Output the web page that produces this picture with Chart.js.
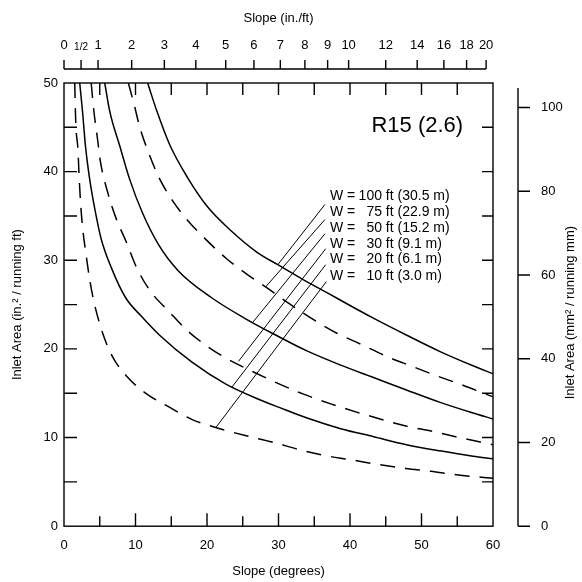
<!DOCTYPE html>
<html>
<head>
<meta charset="utf-8">
<script src="https://cdn.jsdelivr.net/npm/chart.js@4.4.1/dist/chart.umd.min.js"></script>
<style>
  html, body { margin: 0; padding: 0; background: #fff; }
  #wrap { width: 582px; height: 582px; }
</style>
</head>
<body>
<div id="wrap"><canvas id="chart" width="582" height="582"></canvas></div>
<script>
// tick values / labels
const degTicks = [0, 10, 20, 30, 40, 50, 60];
const areaTicks = [0, 10, 20, 30, 40, 50];
const mmTicks = [0, 20, 40, 60, 80, 100];
const inFtTicks = [0, 0.5, 1, 2, 3, 4, 5, 6, 7, 8, 9, 10, 12, 14, 16, 18, 20];
const inFtLabels = ['0', '1/2', '1', '2', '3', '4', '5', '6', '7', '8', '9', '10', '12', '14', '16', '18', '20'];
const innerDeg = [5, 10, 15, 20, 25, 30, 35, 40, 45, 50, 55];
const innerArea = [5, 10, 15, 20, 25, 30, 35, 40, 45];

// curves: [slope (degrees), inlet area (in.2 / running ft)]
const w100 = [[11.7, 50], [13, 46.8], [14.8, 43], [17.3, 39.3], [20.1, 36], [23.4, 33.3], [27, 30.9], [29.9, 29.5],
  [33.5, 27.8], [36.9, 26.3], [40, 24.9], [43.2, 23.5], [47.8, 21.6], [52.6, 19.7], [57.2, 18.1], [60, 17.2]];
const w75 = [[9.0, 50], [9.8, 47.6], [10.6, 45], [11.9, 42], [13.3, 39.3], [15.2, 36.7], [17.3, 34.5], [19.9, 32.3],
  [22.7, 30.2], [25.8, 28.3], [28.2, 27], [31.5, 25.1], [34.5, 23.5], [38.1, 21.8], [41.6, 20.5], [45, 19.2],
  [48.8, 18], [52, 17], [55.8, 15.9], [59, 14.9], [60, 14.6]];
const w50 = [[5.7, 50], [6.4, 46.8], [7.8, 42.9], [9.2, 39.1], [11, 35.3], [13.2, 31.8], [16, 28.8], [20.6, 25.8],
  [25.4, 23.4], [30, 21.4], [33.9, 19.8], [38.6, 18.2], [43.2, 16.8], [47.8, 15.4], [52.5, 14], [57.1, 12.8], [60, 12.1]];
const w30 = [[3.8, 50], [4.2, 46.7], [4.7, 43.6], [5.1, 41.1], [6.1, 37.7], [7.3, 34.7], [8.7, 32.1], [10.2, 29.1],
  [12.1, 26.5], [14.7, 24.2], [17.2, 22.1], [20.2, 20.2], [23, 18.8], [26.5, 17.4], [29.4, 16.3], [33.5, 14.9],
  [37.3, 13.8], [40.8, 12.9], [44.2, 12.1], [47.8, 11.3], [51.6, 10.7], [55.3, 10], [58.8, 9.4], [60, 9.2]];
const w20 = [[2.2, 50], [2.6, 46.7], [3.0, 42.9], [3.6, 39.1], [4.4, 35.4], [5.2, 32.4], [6.7, 29], [8.6, 25.8],
  [10.8, 23.7], [13.3, 21.6], [17.9, 18.5], [22.7, 16], [27.3, 14.3], [30.1, 13.4], [34, 12.2], [38.7, 11],
  [43.3, 10.1], [47.9, 9.2], [52.6, 8.5], [57.2, 7.9], [60, 7.6]];
const w10 = [[1.5, 50], [1.65, 45.4], [1.95, 42.5], [2.1, 39.7], [2.3, 36.7], [2.6, 33.7], [3.06, 30.8], [3.66, 27.5],
  [4.25, 25.1], [5.4, 21.8], [6.8, 19.1], [8.9, 16.8], [11.6, 14.9], [14.8, 13.4], [18, 12], [21.8, 11],
  [25.5, 10.2], [29.1, 9.5], [33.1, 8.6], [36.3, 8], [40.1, 7.5], [43.7, 7], [47.8, 6.5], [51.3, 6.2],
  [54.9, 5.8], [58.7, 5.5], [60, 5.4]];

// leader lines from the labels to each curve
const leaders = [
  [[36.5, 36.3], [29.9, 29.5]],
  [[36.5, 34.6], [28.2, 27.0]],
  [[36.5, 33.0], [26.4, 23.0]],
  [[36.6, 31.3], [24.4, 18.6]],
  [[36.6, 29.5], [23.4, 15.6]],
  [[36.7, 27.6], [21.3, 11.2]]
];
const widthLabels = ['100', '75', '50', '30', '20', '10'];
const metricLabels = ['(30.5 m)', '(22.9 m)', '(15.2 m)', '(9.1 m)', '(6.1 m)', '(3.0 m)'];
const labelX = 37.2;
const labelY = [37.2, 35.4, 33.6, 31.8, 30.1, 28.2];

const IN2FT_TO_MM2MM = 645.16 / 304.8;
const FONT = '"Liberation Sans", Arial, sans-serif';

Chart.defaults.color = '#000';
Chart.defaults.font.family = FONT;
Chart.defaults.font.size = 13;

function toXY(arr) {
  return arr.map(p => ({ x: p[0], y: p[1] }));
}

function curve(arr, dashed) {
  return {
    data: toXY(arr),
    showLine: true,
    borderColor: '#000',
    borderWidth: 1.5,
    borderDash: dashed ? [15, 10] : [],
    pointRadius: 0,
    cubicInterpolationMode: 'monotone'
  };
}

const datasets = [
  curve(w100, false), curve(w75, true), curve(w50, false),
  curve(w30, true), curve(w20, false), curve(w10, true)
];
leaders.forEach(l => {
  datasets.push({ data: toXY(l), showLine: true, borderColor: '#000', borderWidth: 1, pointRadius: 0 });
});

// frame, inner ticks, the two extra rulers and the text labels
const extras = {
  id: 'extras',
  afterDraw(chart) {
    const { ctx, chartArea: a, scales } = chart;
    const x = scales.x, y = scales.y, x2 = scales.x2, y2 = scales.y2;
    ctx.save();
    ctx.strokeStyle = '#000';
    ctx.lineWidth = 1.4;
    ctx.strokeRect(a.left, a.top, a.right - a.left, a.bottom - a.top);

    ctx.beginPath();
    innerDeg.forEach(d => {
      const px = x.getPixelForValue(d);
      ctx.moveTo(px, a.bottom); ctx.lineTo(px, a.bottom - (d % 10 === 0 ? 13 : 10));
      ctx.moveTo(px, a.top); ctx.lineTo(px, a.top + 12);
    });
    innerArea.forEach(v => {
      const py = y.getPixelForValue(v);
      ctx.moveTo(a.left, py); ctx.lineTo(a.left + 13, py);
      ctx.moveTo(a.right, py); ctx.lineTo(a.right - 11, py);
    });

    // top ruler (in./ft)
    const ry = a.top - 14;
    const tks = x2.ticks;
    ctx.moveTo(x2.getPixelForValue(tks[0].value), ry);
    ctx.lineTo(x2.getPixelForValue(tks[tks.length - 1].value), ry);
    tks.forEach(t => {
      const px = x2.getPixelForValue(t.value);
      ctx.moveTo(px, ry); ctx.lineTo(px, ry - 9);
    });

    // right ruler (mm2/mm)
    const rx = a.right + 25;
    ctx.moveTo(rx, y2.getPixelForValue(0));
    ctx.lineTo(rx, a.top + 5);
    y2.ticks.forEach(t => {
      const py = y2.getPixelForValue(t.value);
      ctx.moveTo(rx, py); ctx.lineTo(rx + 12, py);
    });
    ctx.stroke();

    ctx.fillStyle = '#000';
    ctx.textBaseline = 'middle';

    // width labels
    ctx.font = '14px ' + FONT;
    const lx = x.getPixelForValue(labelX);
    widthLabels.forEach((w, i) => {
      const py = y.getPixelForValue(labelY[i]);
      ctx.textAlign = 'left';
      ctx.fillText('W =', lx, py);
      ctx.textAlign = 'right';
      ctx.fillText(w, lx + 52, py);
      ctx.textAlign = 'left';
      ctx.fillText(' ft ' + metricLabels[i], lx + 52, py);
    });

    ctx.font = '22px ' + FONT;
    ctx.textAlign = 'left';
    ctx.fillText('R15 (2.6)', x.getPixelForValue(43), y.getPixelForValue(45.1));

    // right title, reading upwards like the left one
    ctx.font = '13px ' + FONT;
    ctx.translate(y2.right - 12, (a.top + a.bottom) / 2 + 8);
    ctx.rotate(-Math.PI / 2);
    ctx.textAlign = 'center';
    ctx.fillText('Inlet Area (mm\u00b2 / running mm)', 0, 0);
    ctx.restore();
  }
};

const noGrid = { display: false, drawTicks: false };

const ctx = document.getElementById('chart').getContext('2d');
new Chart(ctx, {
  type: 'scatter',
  data: { datasets: datasets },
  options: {
    responsive: false,
    animation: false,
    layout: { padding: 0 },
    plugins: { legend: { display: false }, tooltip: { enabled: false } },
    scales: {
      x: {
        type: 'linear', position: 'bottom', min: 0, max: 60,
        afterBuildTicks: s => { s.ticks = degTicks.map(v => ({ value: v })); },
        afterFit: s => { s.height = 54; },
        grid: noGrid, border: { display: false },
        ticks: { padding: 11, maxRotation: 0, autoSkip: false },
        title: { display: true, text: 'Slope (degrees)', padding: { top: 0, bottom: 1 } }
      },
      x2: {
        type: 'linear', position: 'top', min: 0, max: 60,
        afterBuildTicks: s => {
          s.ticks = inFtTicks.map(v => ({ value: Math.atan(v / 12) * 180 / Math.PI }));
        },
        afterFit: s => { s.height = 83; },
        grid: noGrid, border: { display: false },
        ticks: {
          padding: 30, maxRotation: 0, autoSkip: false,
          callback: (v, i) => inFtLabels[i],
          font: c => ({ size: inFtLabels[c.index] === '1/2' ? 10 : 13 })
        },
        title: { display: true, text: 'Slope (in./ft)', padding: { top: 11, bottom: 0 } }
      },
      y: {
        type: 'linear', position: 'left', min: 0, max: 50,
        afterBuildTicks: s => { s.ticks = areaTicks.map(v => ({ value: v })); },
        afterFit: s => { s.width = 64; },
        grid: noGrid, border: { display: false },
        ticks: { padding: 6 },
        title: { display: true, text: 'Inlet Area (in.\u00b2 / running ft)', padding: { top: 10, bottom: 0 } }
      },
      y2: {
        type: 'linear', position: 'right', min: 0, max: 50 * IN2FT_TO_MM2MM,
        afterBuildTicks: s => { s.ticks = mmTicks.map(v => ({ value: v })); },
        afterFit: s => { s.width = 89; },
        grid: noGrid, border: { display: false },
        ticks: { padding: 48 },
        title: { display: false }
      }
    }
  },
  plugins: [extras]
});
</script>
</body>
</html>
